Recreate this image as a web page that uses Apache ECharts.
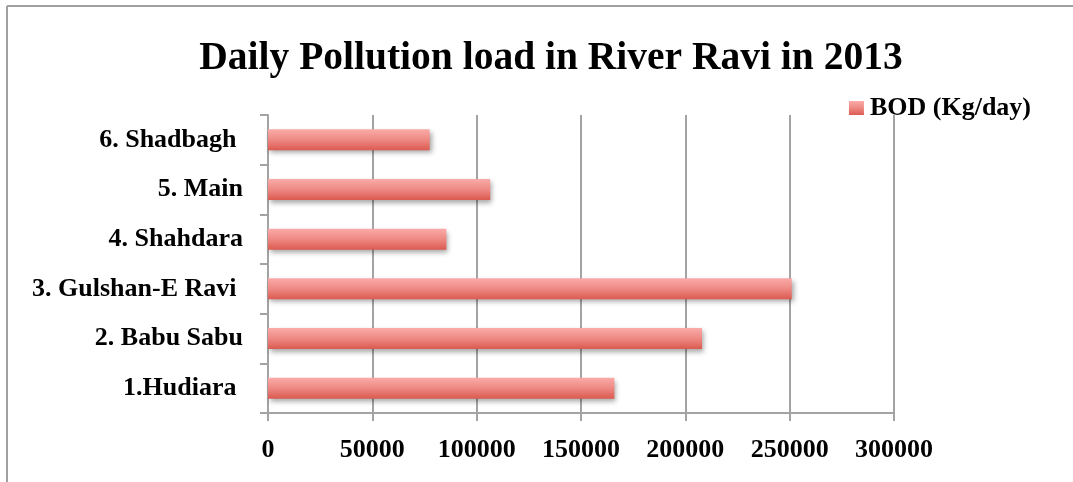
<!DOCTYPE html>
<html>
<head>
<meta charset="utf-8">
<script src="https://cdn.jsdelivr.net/npm/echarts@6/dist/echarts.min.js"></script>
<style>
  html, body { margin: 0; padding: 0; background: #fff; }
  #chart { width: 1073px; height: 482px; }
</style>
</head>
<body>
<div id="chart"></div>
<script>
// Drain outlets along the river, listed bottom to top
const categories = ['1.Hudiara ', '2. Babu Sabu', '3. Gulshan-E Ravi ', '4. Shahdara', '5. Main', '6. Shadbagh '];
// Biochemical oxygen demand discharged per day
const bodLoad = [166000, 208000, 251000, 85500, 106500, 77500];
const seriesName = 'BOD (Kg/day)';
const chartTitle = 'Daily Pollution load in River Ravi in 2013';

const FONT = '"Liberation Serif", "DejaVu Serif", serif';
const gridColor = '#a3a3a3';

const barFill = new echarts.graphic.LinearGradient(0, 0, 0, 1, [
  { offset: 0, color: '#faaba9' },
  { offset: 0.5, color: '#ee8983' },
  { offset: 1, color: '#db5a50' }
]);

const chart = echarts.init(document.getElementById('chart'), null, { renderer: 'canvas' });
chart.setOption({
  backgroundColor: '#ffffff',
  animation: false,
  title: {
    text: chartTitle,
    left: 546,
    textAlign: 'center',
    top: 34,
    textStyle: { fontFamily: FONT, fontWeight: 'bold', fontSize: 39.5, color: '#000' }
  },
  legend: {
    data: [seriesName],
    right: 37,
    top: 90,
    itemWidth: 15,
    itemHeight: 14,
    icon: 'rect',
    textStyle: { fontFamily: FONT, fontWeight: 'bold', fontSize: 26, color: '#000', padding: [0, 0, 0, 1] }
  },
  grid: { left: 268, right: 179, top: 115, bottom: 69, containLabel: false },
  xAxis: {
    type: 'value',
    min: 0,
    max: 300000,
    interval: 50000,
    axisLine: { show: true, lineStyle: { color: gridColor, width: 2 } },
    axisTick: { show: true, length: 8, lineStyle: { color: gridColor, width: 2 } },
    splitLine: { show: true, lineStyle: { color: gridColor, width: 2 } },
    axisLabel: {
      fontFamily: FONT, fontWeight: 'bold', fontSize: 26, color: '#000', margin: 24,
      formatter: (v) => String(v)
    }
  },
  yAxis: {
    type: 'category',
    data: categories,
    axisLine: { show: true, lineStyle: { color: gridColor, width: 2 } },
    axisTick: { show: true, length: 8, lineStyle: { color: gridColor, width: 2 } },
    axisLabel: { fontFamily: FONT, fontWeight: 'bold', fontSize: 26, color: '#000', margin: 25 }
  },
  series: [{
    name: seriesName,
    type: 'bar',
    data: bodLoad,
    barWidth: 21,
    itemStyle: {
      color: barFill,
      shadowColor: 'rgba(0,0,0,0.35)',
      shadowBlur: 5,
      shadowOffsetX: 2,
      shadowOffsetY: 3
    }
  }],
  graphic: [
    { type: 'line', shape: { x1: 7, y1: 6, x2: 1073, y2: 6 }, style: { stroke: '#a0a0a0', lineWidth: 2 }, silent: true },
    { type: 'line', shape: { x1: 7, y1: 6, x2: 7, y2: 482 }, style: { stroke: '#a0a0a0', lineWidth: 2 }, silent: true }
  ]
});
</script>
</body>
</html>
